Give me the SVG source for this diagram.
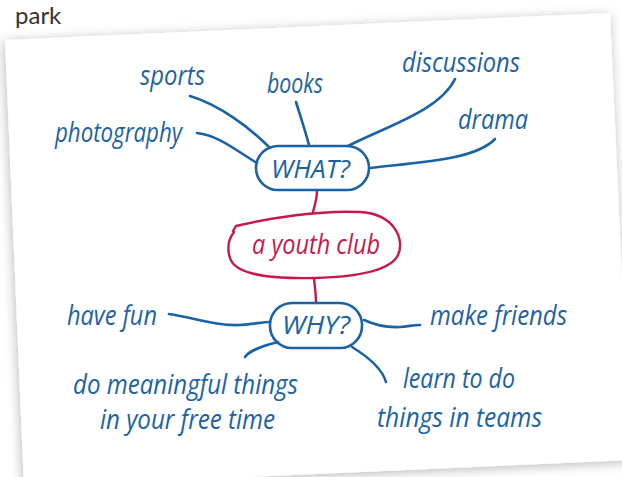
<svg xmlns="http://www.w3.org/2000/svg" width="622" height="477" viewBox="0 0 622 477">
<style>
.t{font-family:"Open Sans","DejaVu Sans",sans-serif;font-style:italic;font-size:27px;fill:#1a62a6}
.c{font-family:"Open Sans","DejaVu Sans",sans-serif;font-style:italic;font-size:25px;fill:#1a62a6}
.b{fill:none;stroke:#1a62a6;stroke-width:2.6;stroke-linecap:round}
.r{fill:none;stroke:#c8174b;stroke-width:2.4;stroke-linecap:round}
</style>
<defs>
<filter id="sh" x="-10%" y="-10%" width="120%" height="120%">
<feDropShadow dx="-1" dy="2" stdDeviation="6" flood-color="#000" flood-opacity="0.28"/>
</filter>
</defs>
<rect width="622" height="477" fill="#fff"/>
<text x="15" y="24" font-family="Lato, 'Open Sans', sans-serif" font-size="24" fill="#333">park</text>
<polygon points="5,40 610,13 630,460 24,487" fill="#fff" filter="url(#sh)"/>
<g id="connectors">
<path class="b" d="M190,96 C220,105 250,128 270,148"/>
<path class="b" d="M197,133 C220,136 235,150 257,163"/>
<path class="b" d="M296,102 C300,115 305,130 309,145"/>
<path class="b" d="M455,79 C440,110 390,125 348,146"/>
<path class="b" d="M495,139 C475,160 420,162 370,168"/>
<path class="b" d="M169,314 C195,318 215,326 240,325 C255,324 262,322 270,322"/>
<path class="b" d="M364,320 C375,325 385,328 400,327 C410,326 415,325 420,325"/>
<path class="b" d="M245,357 C250,350 262,346 278,342"/>
<path class="b" d="M352,347 C365,355 382,368 386,382"/>
<path class="r" d="M317,191 C317,198 315,205 313,212"/>
<path class="r" d="M314,279 C315,288 316,295 316,303"/>
</g>
<g id="what">
<rect class="b" x="256" y="146" width="113" height="44" rx="22"/>
<text class="c" x="271" y="178" textLength="79" lengthAdjust="spacingAndGlyphs">WHAT?</text>
</g>
<g id="youthclub">
<path class="r" d="M233,231 L236,226 C270,218 320,210 360,212 C395,214 405,240 398,255 C390,272 350,277 315,278 C270,279 235,275 230,258 C226,245 230,237 234,232"/>
<text class="t" x="252" y="254" textLength="128" lengthAdjust="spacingAndGlyphs" style="fill:#c8174b">a youth club</text>
</g>
<g id="why">
<rect class="b" x="270" y="303" width="92" height="45" rx="22"/>
<text class="c" x="282" y="334" textLength="68" lengthAdjust="spacingAndGlyphs">WHY?</text>
</g>
<g id="sports"><text class="t" x="140" y="85" textLength="65" lengthAdjust="spacingAndGlyphs">sports</text></g>
<g id="books"><text class="t" x="267" y="93" textLength="56" lengthAdjust="spacingAndGlyphs">books</text></g>
<g id="discussions"><text class="t" x="402" y="72" textLength="118" lengthAdjust="spacingAndGlyphs">discussions</text></g>
<g id="drama"><text class="t" x="458" y="129" textLength="70" lengthAdjust="spacingAndGlyphs">drama</text></g>
<g id="photography"><text class="t" x="55" y="142" textLength="127" lengthAdjust="spacingAndGlyphs">photography</text></g>
<g id="havefun"><text class="t" x="67" y="325" textLength="90" lengthAdjust="spacingAndGlyphs">have fun</text></g>
<g id="makefriends"><text class="t" x="430" y="325" textLength="137" lengthAdjust="spacingAndGlyphs">make friends</text></g>
<g id="meaningful">
<text class="t" x="73" y="394" textLength="225" lengthAdjust="spacingAndGlyphs">do meaningful things</text>
<text class="t" x="100" y="429" textLength="175" lengthAdjust="spacingAndGlyphs">in your free time</text>
</g>
<g id="teams">
<text class="t" x="403" y="388" textLength="112" lengthAdjust="spacingAndGlyphs">learn to do</text>
<text class="t" x="377" y="427" textLength="165" lengthAdjust="spacingAndGlyphs">things in teams</text>
</g>
</svg>
